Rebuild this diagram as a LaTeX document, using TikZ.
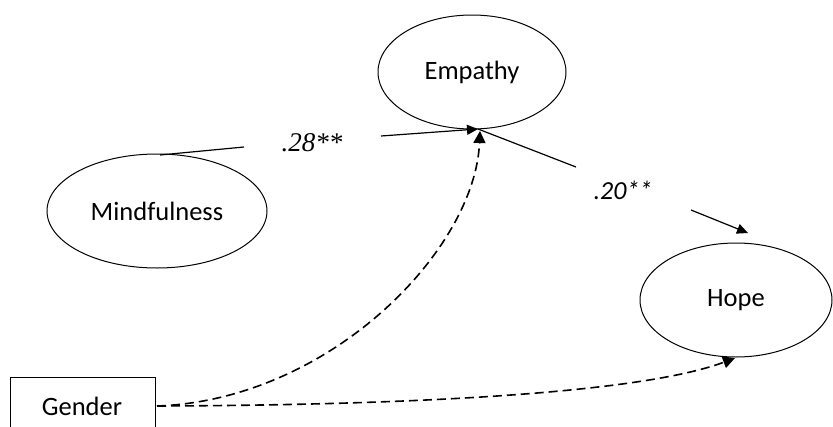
\documentclass[tikz,border=0pt]{standalone}
\usepackage{fontspec}
\setmainfont{Carlito}
\newfontfamily\timesfont{Liberation Serif}
\usetikzlibrary{shapes.geometric,arrows.meta}
\begin{document}
\begin{tikzpicture}[x=1pt,y=-1pt,
  var/.style={draw,ellipse,line width=1pt,inner sep=0pt,font=\fontsize{26.5}{30}\selectfont},
  obs/.style={draw,rectangle,line width=1pt,inner sep=0pt},
  path/.style={line width=1.2pt},
  dpath/.style={line width=1.6pt,dash pattern=on 9pt off 5pt},
  tip/.style={-{Triangle[length=11pt,width=10pt]}},
  dtip/.style={-{Triangle[length=12pt,width=12pt]}},
  lab/.style={inner sep=0pt}]
\useasboundingbox (0,0) rectangle (833,426);
\fill[white] (0,0) rectangle (833,426);
\node[var,minimum width=188pt,minimum height=114pt] (E) at (472,72) {Empathy};
\node[var,minimum width=220pt,minimum height=114pt] (M) at (157,211) {Mindfulness};
\node[var,minimum width=192pt,minimum height=114pt] (H) at (736,300) {Hope};
\node[obs,minimum width=145pt,minimum height=62pt,anchor=north west] (G) at (10,377) {};
\node[font=\fontsize{26.5}{30}\selectfont,inner sep=0pt] (Gt) at (82,406) {Gender};
\coordinate (Et) at (478,129);
\coordinate (m1) at (244,147);
\coordinate (m2) at (381,136);
\coordinate (h1) at (576,167);
\coordinate (h2) at (691,210);
\coordinate (Ht) at (748,233);
\node[lab,font=\timesfont\itshape\fontsize{27}{30}\selectfont] (l1) at (312,143) {.28**};
\node[lab,font=\itshape\fontsize{26}{30}\selectfont] (l2) at (623,190) {.20**};
\draw[path] (160,155) -- (m1);
\draw[path,tip] (m2) -- (Et);
\draw[path] (Et) -- (h1);
\draw[path,tip] (h2) -- (Ht);
\coordinate (Gr) at (157,406);
\draw[dpath,dtip] (Gr) .. controls (330,400) and (475,250) .. (480,131);
\draw[dpath,dtip] (Gr) .. controls (450,405) and (650,390) .. (735,358);
\end{tikzpicture}
\end{document}
